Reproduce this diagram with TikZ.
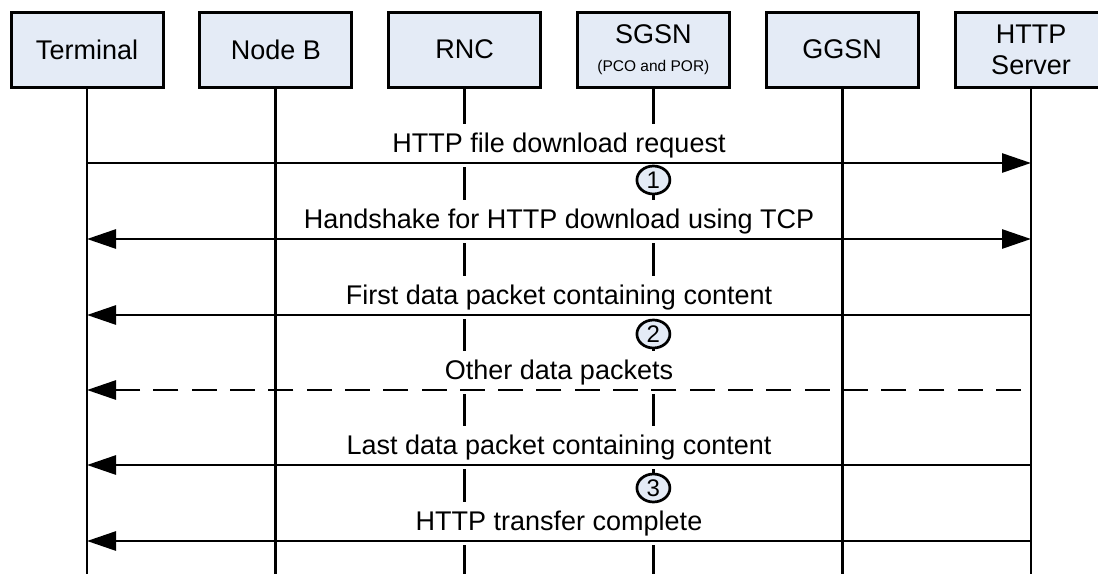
\documentclass[tikz,border=0pt]{standalone}
\usepackage{fontspec}
\setmainfont{Liberation Sans}
\usetikzlibrary{arrows.meta,shapes.geometric}
\definecolor{boxfill}{RGB}{228,235,246}
\begin{document}
\begin{tikzpicture}[x=1pt,y=-1pt,
  actor/.style={draw=black, line width=3pt, fill=boxfill, minimum width=152pt,
    minimum height=75pt, inner sep=0pt, align=center, font=\fontsize{27}{31}\selectfont},
  life/.style={line width=2.7pt},
  msg/.style={line width=2.8pt},
  head/.style={-{Triangle[length=29pt,width=19pt]}},
  both/.style={{Triangle[length=29pt,width=19pt]}-{Triangle[length=29pt,width=19pt]}},
  dashmsg/.style={dash pattern=on 25pt off 13.3pt},
  lbl/.style={fill=white, inner xsep=4pt, inner ysep=8pt, text height=21pt, text depth=6pt,
    anchor=south, font=\fontsize{27}{31}\selectfont},
  num/.style={ellipse, draw=black, line width=2.7pt, fill=boxfill, minimum width=33pt,
    minimum height=28pt, inner sep=0pt, font=\fontsize{24}{26}\selectfont}
]
\useasboundingbox (0,0) rectangle (1098,574);

% participants
\node[actor] (term) at (87,49.5) {Terminal};
\node[actor] (nodeb) at (275.8,49.5) {Node B};
\node[actor] (rnc) at (464.6,49.5) {RNC};
\node[actor] (sgsn) at (653.4,49.5) {SGSN\\[-3pt]{\fontsize{15.5}{17}\selectfont (PCO and POR)}};
\node[actor] (ggsn) at (842.2,49.5) {GGSN};
\node[actor] (srv) at (1031,49.5) {HTTP\\Server};

% lifeline ends
\coordinate (term-e) at (87,574);
\coordinate (nodeb-e) at (275.8,574);
\coordinate (rnc-e) at (464.6,574);
\coordinate (sgsn-e) at (653.4,574);
\coordinate (ggsn-e) at (842.2,574);
\coordinate (srv-e) at (1031,574);

\foreach \p in {term,nodeb,rnc,sgsn,ggsn,srv}
  \draw[life] (\p.south) -- (\p-e);

% message rows
\coordinate (y1) at (0,163);
\coordinate (y2) at (0,239);
\coordinate (y3) at (0,315);
\coordinate (y4) at (1021,390);
\coordinate (y5) at (0,465);
\coordinate (y6) at (0,541);

% labels
\node[lbl] (l1) at (559,167) {HTTP file download request};
\node[lbl] (l2) at (559,243) {Handshake for HTTP download using TCP};
\node[lbl] (l3) at (559,319) {First data packet containing content};
\node[lbl] (l4) at (559,394) {Other data packets};
\node[lbl] (l5) at (559,469) {Last data packet containing content};
\node[lbl] (l6) at (559,545) {HTTP transfer complete};

% messages
\draw[msg,head] (term |- y1) -- (srv |- y1);
\draw[msg,both] (term |- y2) -- (srv |- y2);
\draw[msg,head] (srv |- y3) -- (term |- y3);
\draw[msg,head,dashmsg] (y4) -- (term |- y4);
\draw[msg,head] (srv |- y5) -- (term |- y5);
\draw[msg,head] (srv |- y6) -- (term |- y6);

% step markers
\node[num] (n1) at (653.4,180) {1};
\node[num] (n2) at (653.4,334) {2};
\node[num] (n3) at (653.4,488) {3};
\end{tikzpicture}
\end{document}
